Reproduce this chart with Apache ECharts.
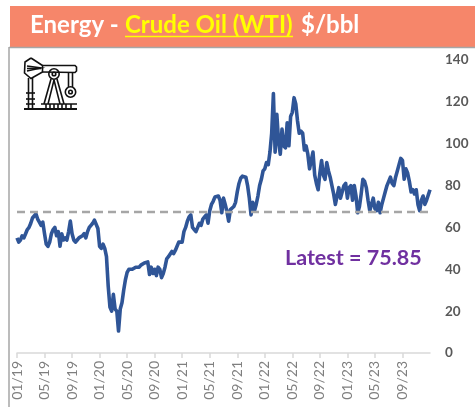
<!DOCTYPE html>
<html>
<head>
<meta charset="utf-8">
<style>html,body{margin:0;padding:0;background:#fff}#c{width:475px;height:407px}</style>
<script src="https://cdn.jsdelivr.net/npm/echarts@6/dist/echarts.min.js"></script>
</head>
<body>
<div id="c"></div>
<script>
const tickLabels = ['01/19','05/19','09/19','01/20','05/20','09/20','01/21','05/21','09/21','01/22','05/22','09/22','01/23','05/23','09/23',''];
const wtiPrice = [
 55,53,54,56,55,57,59,60,62,64.5,65,66.5,64,62.5,61,62.5,
 57,52,51,53,57,59,60,56,58,51,57,54,55,54,58,63,
 57,54,53,54,55,55,56,57,55,58,60,61,62,63.5,64,59.5,
 51,50,52,50,46,32,22,20,28,21,20,10.5,21,24,30,35,
 38.5,40,39.5,40,40,41,41.5,41,42,42,43,43.5,43.5,37.5,41,38,
 40,37,41,40,36,38,41,45,46,46.5,48.5,47.5,49,48.5,53,52.5,
 53,58,60,63,65,66,60,59,58,60,62,61,64,65,66,62,
 68,71,72.5,74.5,74.5,75,73,67,74,71,67.5,63,68.5,69,70,72,
 77,81,83.5,84.5,84,84,80,74,66,72,68,71,75,80,83,87,
 88,91,90,96,105,124,96,114,101,95,107,99,98,110,99,113,
 115,122,119,111,105,106,105,97,99,95,88,92,96,85,81,78,
 86,92,85,83,91,87,84,80,76,71,75,79,74,74,80,81,
 74,79,80,73,80,75,67,70,76,83,82,79,73,68,71,74,
 69,68,72,67,71,74,77,80,82,84,81,80,84,87,90,93,
 92,83,88,86,82,77,78,76,78,71,68,73,75,71,73,75.5,
 78
];
const baseline = 67.5;
const titleParts = ['Energy - ', 'Crude Oil (WTI)', '$/bbl'];
const latestText = 'Latest = 75.85';
const yTicks = {min: 0, max: 140, interval: 20};

const categories = wtiPrice.map((_, i) => i % 16 === 0 ? tickLabels[i / 16] : String(i));

const iconInk = {stroke: '#111', lineWidth: 1.6, fill: 'none'};
const pl = pts => ({type: 'polyline', shape: {points: pts}, style: iconInk, z: 10});
const ci = (x, y, r) => ({type: 'circle', shape: {cx: x, cy: y, r}, style: iconInk, z: 10});
const ln = (a, b, c, d, w) => ({type: 'line', shape: {x1: a, y1: b, x2: c, y2: d}, style: {stroke: '#111', lineWidth: w || 1.6}, z: 10});
const icon = [
  pl([[31,58],[25,62],[24.5,73],[31,78.5],[42.5,72],[42.5,65.5],[31,58]]),
  pl([[27,66],[41,68],[27,71]]), ln(27,68.5,41,68.5),
  pl([[42.5,65.5],[75,65.5],[76.5,67],[76.5,71],[75,72.5],[42.5,72]]),
  ci(54,74,5.2), ci(54,74,1.8),
  ln(51,79,44,104), ln(54,80,48,104), ln(57,79,64,104), ln(54,80,60,104),
  ln(68.5,72.5,68.5,87), ln(72.5,72.5,72.5,87),
  ci(70.5,92,5.2), ci(70.5,92,1.8),
  ln(28.5,78,28.5,109), ln(32.5,78,32.5,109),
  ln(26,93,35,93), ln(26,99,35,99), ln(26,104,35,104),
  ln(41,104,77,104), ln(24,109,77,109,1.8),
  ln(46,104,46,109), ln(50,104,50,109), ln(54,104,54,109), ln(58,104,58,109), ln(62,104,62,109), ln(66,104,66,109), ln(71,104,71,109)
];

const titleFont = {fontFamily: 'Lato', fontWeight: 'bold', fontSize: 24};
const chart = echarts.init(document.getElementById('c'), null, {renderer: 'canvas'});
chart.setOption({
  animation: false,
  backgroundColor: '#fff',
  grid: {left: 17, right: 45, top: 60, bottom: 54},
  xAxis: {
    type: 'category', data: categories, boundaryGap: false,
    axisLine: {lineStyle: {color: '#D9D9D9', width: 1.5}},
    axisTick: {interval: 15, length: 5, lineStyle: {color: '#D9D9D9', width: 1.5}},
    axisLabel: {interval: 15, rotate: 90, color: '#7F7F7F', fontFamily: 'Lato', fontSize: 14, margin: 8,
      showMaxLabel: false}
  },
  yAxis: {
    type: 'value', position: 'right', min: yTicks.min, max: yTicks.max, interval: yTicks.interval,
    splitLine: {show: false}, axisLine: {show: false}, axisTick: {show: false},
    axisLabel: {color: '#595959', fontFamily: 'Lato', fontWeight: 'bold', fontSize: 13.5, margin: 15}
  },
  series: [{
    type: 'line', data: wtiPrice, showSymbol: false, smooth: false, silent: true,
    lineStyle: {color: '#2F5597', width: 3.6, join: 'round'},
    markLine: {
      silent: true, symbol: 'none', label: {show: false}, animation: false,
      lineStyle: {color: '#A6A6A6', type: [8, 5], width: 2.4},
      data: [{yAxis: baseline}]
    }
  }],
  graphic: [
    {type: 'rect', shape: {x: 10, y: 6, width: 465, height: 41}, style: {fill: '#F6866A'}, z: 5},
    {type: 'line', shape: {x1: 9, y1: 47.5, x2: 475, y2: 47.5}, style: {stroke: '#A6A6A6', lineWidth: 1.5}, z: 6},
    {type: 'line', shape: {x1: 9, y1: 47, x2: 9, y2: 407}, style: {stroke: '#A6A6A6', lineWidth: 1.5}, z: 6},
    {type: 'text', x: 30, y: 25, style: Object.assign({text: titleParts[0], fill: '#fff', verticalAlign: 'middle'}, titleFont), z: 7},
    {type: 'text', x: 125, y: 25, style: Object.assign({text: titleParts[1], fill: '#FFFF00', verticalAlign: 'middle'}, titleFont), z: 7},
    {type: 'text', x: 301, y: 25, style: Object.assign({text: titleParts[2], fill: '#fff', verticalAlign: 'middle'}, titleFont), z: 7},
    {type: 'line', shape: {x1: 125, y1: 36.5, x2: 293, y2: 36.5}, style: {stroke: '#FFFF00', lineWidth: 1.5}, z: 7},
    {type: 'text', x: 285, y: 258, style: {text: latestText, fill: '#7030A0', fontFamily: 'Lato', fontWeight: 'bold', fontSize: 21.5, verticalAlign: 'middle'}, z: 7}
  ].concat(icon)
});
</script>
</body>
</html>
